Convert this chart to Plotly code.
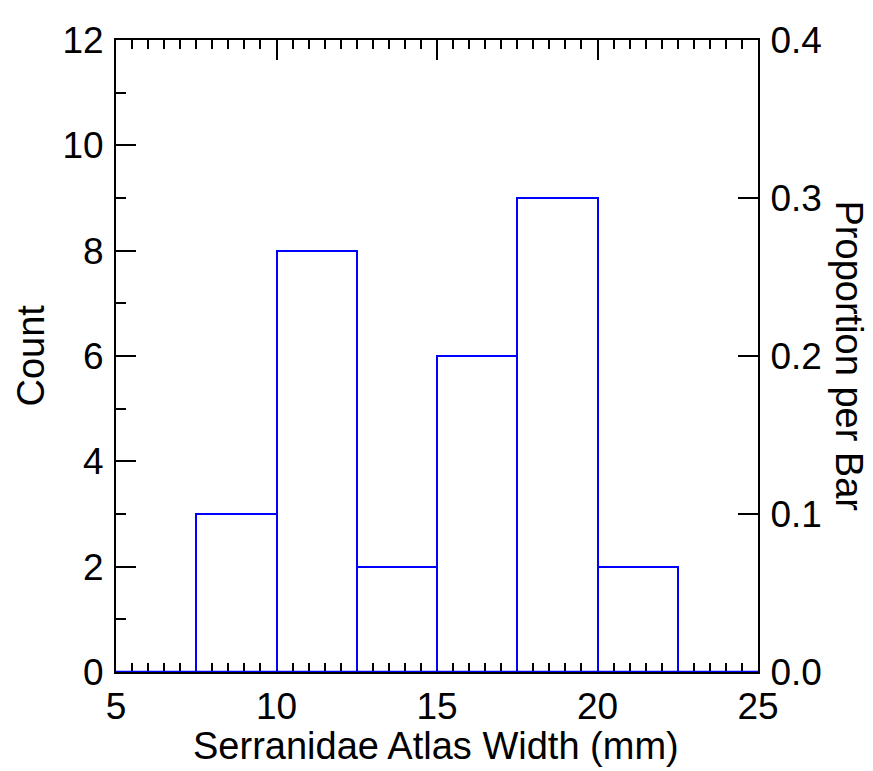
import plotly.graph_objects as go

# Data
bin_edges = [5, 7.5, 10, 12.5, 15, 17.5, 20, 22.5, 25]
counts = [0, 3, 8, 2, 6, 9, 2, 0]
x_title = "Serranidae Atlas Width (mm)"
y_title = "Count"
y2_title = "Proportion per Bar"

total = sum(counts)
centers = [(a + b) / 2 for a, b in zip(bin_edges[:-1], bin_edges[1:])]
widths = [b - a for a, b in zip(bin_edges[:-1], bin_edges[1:])]
proportions = [c / total for c in counts]

BLUE = "#0000ff"
FONT = "Liberation Sans, Arial, sans-serif"
FS = 37
FT = 38

fig = go.Figure()
fig.add_trace(go.Bar(
    x=centers, y=counts, width=widths,
    marker=dict(color="rgba(0,0,0,0)", line=dict(color=BLUE, width=2)),
    cliponaxis=False, showlegend=False, hoverinfo="skip",
))
fig.add_trace(go.Scatter(
    x=[bin_edges[0], bin_edges[-1]], y=[0, 0], mode="lines",
    line=dict(color=BLUE, width=2.5), cliponaxis=False,
    showlegend=False, hoverinfo="skip",
))
fig.add_trace(go.Scatter(
    x=centers, y=proportions, yaxis="y2", mode="markers",
    marker=dict(opacity=0), showlegend=False, hoverinfo="skip",
))

OFF = 8  # page body margin
W, H = 873 - OFF, 771 - OFF
L, R, T, B = 116 - OFF, 115, 31 - OFF, 99
pw = W - L - R
ph = H - T - B


def px_x(page_x):
    return (page_x - OFF - L) / pw


def px_y(page_y):
    return (H - (page_y - OFF) - B) / ph


axis_common = dict(
    showgrid=False, zeroline=False, showline=True, linecolor="black",
    linewidth=2, ticks="inside", tickcolor="black", tickwidth=1.5,
    tickfont=dict(family=FONT, size=FS, color="black"),
    layer="below traces",
)

fig.update_layout(
    width=W, height=H,
    margin=dict(l=L, r=R, t=T, b=B, pad=0),
    plot_bgcolor="white", paper_bgcolor="white",
    bargap=0,
    xaxis=dict(
        axis_common, range=[5, 25], tick0=5, dtick=5, ticklen=20,
        mirror="ticks", ticklabelstandoff=1,
        minor=dict(dtick=0.5, ticks="inside", ticklen=9, tickcolor="black", tickwidth=1.5),
    ),
    yaxis=dict(
        axis_common, range=[0, 12], tick0=0, dtick=2, ticklen=20,
        ticklabelstandoff=3,
        minor=dict(dtick=1, ticks="inside", ticklen=10, tickcolor="black", tickwidth=1.5),
    ),
    yaxis2=dict(
        axis_common, range=[0, 0.4], tick0=0, dtick=0.1, ticklen=20,
        tickformat=".1f", overlaying="y", side="right", ticklabelstandoff=3,
    ),
    annotations=[
        dict(text=x_title, xref="paper", yref="paper", x=px_x(436), y=px_y(747),
             showarrow=False, font=dict(family=FONT, size=FT, color="black"),
             xanchor="center", yanchor="middle"),
        dict(text=y_title, xref="paper", yref="paper", x=px_x(31), y=px_y(351),
             showarrow=False, font=dict(family=FONT, size=FT, color="black"),
             textangle=-90, xanchor="center", yanchor="middle"),
        dict(text=y2_title, xref="paper", yref="paper", x=px_x(849), y=px_y(351),
             showarrow=False, font=dict(family=FONT, size=FT, color="black"),
             textangle=90, xanchor="center", yanchor="middle"),
    ],
)

fig.write_html("out.html")
